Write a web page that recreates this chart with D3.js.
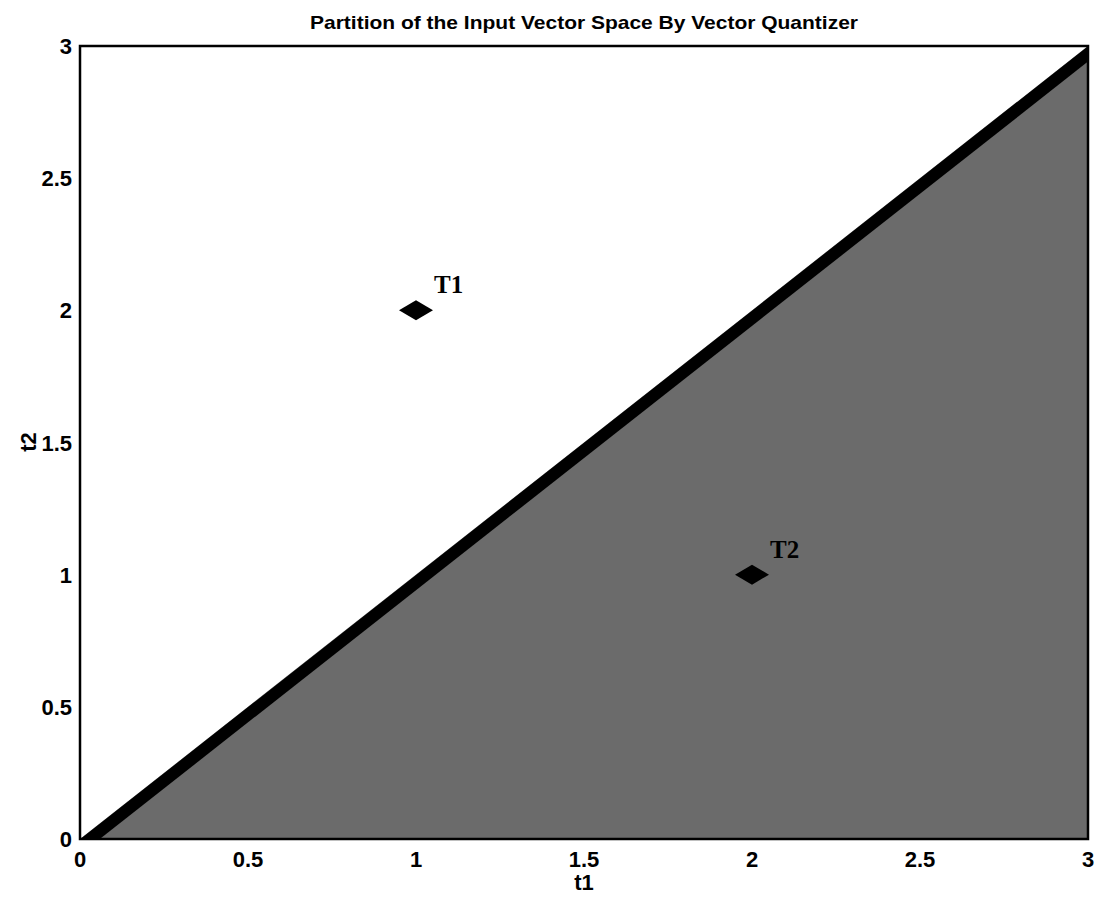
<html>
<head>
<meta charset="utf-8" />
<script src="https://cdn.jsdelivr.net/npm/d3@7/dist/d3.min.js"></script>
</head>
<body style="margin:0;background:#fff">
<svg width="1101" height="897"></svg>
<script>
// tick values
var tickVals = [0, 0.5, 1, 1.5, 2, 2.5, 3];
// decision boundary t2 = t1
var boundary = [[0, 0], [3, 3]];
// region of T2 (below the boundary)
var regionT2 = [[0, 0], [3, 0], [3, 3]];
// codebook vectors
var protoNames = ["T1", "T2"];
var protoT1 = [1, 2];
var protoT2 = [2, 1];

var mLeft = 80, mRight = 1088, mTop = 46, mBottom = 839;
var svg = d3.select("svg");
var font = "'Liberation Sans', Arial, sans-serif";

var x = d3.scaleLinear().domain([0, 3]).range([mLeft, mRight]);
var y = d3.scaleLinear().domain([0, 3]).range([mBottom, mTop]);
var line = d3.line().x(function(d) { return x(d[0]); }).y(function(d) { return y(d[1]); });

svg.append("clipPath").attr("id", "clip")
  .append("rect").attr("x", mLeft).attr("y", mTop).attr("width", mRight - mLeft).attr("height", mBottom - mTop);

var g = svg.append("g").attr("clip-path", "url(#clip)");

g.append("path")
  .attr("d", line(regionT2) + "Z")
  .attr("fill", "#6b6b6b");

g.append("path")
  .attr("d", line(boundary))
  .attr("transform", "translate(5,4)")
  .attr("stroke", "#000")
  .attr("stroke-width", 12)
  .attr("fill", "none");

// markers
var pts = protoNames.map(function(n, i) { return {name: n, t1: protoT1[i], t2: protoT2[i]}; });
svg.selectAll(".proto").data(pts).enter().append("path")
  .attr("class", "proto")
  .attr("d", function(d) {
    var cx = x(d.t1), cy = y(d.t2);
    return "M" + (cx - 17) + "," + cy + "L" + cx + "," + (cy - 10) + "L" + (cx + 17) + "," + cy + "L" + cx + "," + (cy + 10) + "Z";
  })
  .attr("fill", "#000");

svg.selectAll(".plabel").data(pts).enter().append("text")
  .attr("x", function(d) { return x(d.t1) + 18; })
  .attr("y", function(d) { return y(d.t2) - 17; })
  .attr("font-family", "'Liberation Serif', 'DejaVu Serif', serif")
  .attr("font-weight", "bold")
  .attr("font-size", 25)
  .text(function(d) { return d.name; });

// frame
svg.append("rect").attr("x", mLeft).attr("y", mTop).attr("width", mRight - mLeft).attr("height", mBottom - mTop)
  .attr("fill", "none").attr("stroke", "#000").attr("stroke-width", 2.5);

// tick labels
svg.selectAll(".xt").data(tickVals).enter().append("text")
  .attr("x", function(d) { return x(d); })
  .attr("y", 867)
  .attr("text-anchor", "middle")
  .attr("font-family", font).attr("font-weight", "bold").attr("font-size", 22)
  .text(function(d) { return d; });

svg.selectAll(".yt").data(tickVals).enter().append("text")
  .attr("x", 72)
  .attr("y", function(d) { return y(d) + 8; })
  .attr("text-anchor", "end")
  .attr("font-family", font).attr("font-weight", "bold").attr("font-size", 22)
  .text(function(d) { return d; });

// titles
svg.append("text").attr("x", 584).attr("y", 29).attr("text-anchor", "middle")
  .attr("font-family", font).attr("font-weight", "bold").attr("font-size", 19)
  .attr("textLength", 548).attr("lengthAdjust", "spacingAndGlyphs")
  .text("Partition of the Input Vector Space By Vector Quantizer");

svg.append("text").attr("x", 584).attr("y", 890).attr("text-anchor", "middle")
  .attr("font-family", font).attr("font-weight", "bold").attr("font-size", 22)
  .text("t1");

svg.append("text").attr("transform", "translate(36,442) rotate(-90)").attr("text-anchor", "middle")
  .attr("font-family", font).attr("font-weight", "bold").attr("font-size", 22)
  .text("t2");
</script>
</body>
</html>
